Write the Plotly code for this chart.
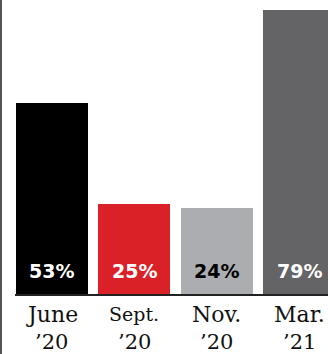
import plotly.graph_objects as go

# Survey share by wave
periods = ["June", "Sept.", "Nov.", "Mar."]
years = ["’20", "’20", "’20", "’21"]
shares = [53, 25, 24, 79]
bar_colors = ["#000000", "#db2128", "#acadb0", "#646466"]
label_colors = ["#ffffff", "#ffffff", "#000000", "#ffffff"]
month_sizes = [22, 19, 22, 22]

x = list(range(len(periods)))

fig = go.Figure(
    go.Bar(
        x=x,
        y=shares,
        width=0.875,
        marker=dict(color=bar_colors, line=dict(width=0)),
        hoverinfo="skip",
    )
)

# Percentage labels sitting at the foot of each bar
for xi, v, c in zip(x, shares, label_colors):
    fig.add_annotation(
        x=xi, y=0, xref="x", yref="y",
        text=f"<b>{v}%</b>", showarrow=False,
        yanchor="middle", yshift=23,
        font=dict(family="DejaVu Sans", size=19, color=c),
    )

# Two-line category labels under the axis
for xi, m, yr, fs in zip(x, periods, years, month_sizes):
    fig.add_annotation(
        x=xi, y=0, xref="x", yref="paper",
        text=m, showarrow=False, yanchor="middle", yshift=-20,
        font=dict(family="DejaVu Serif", size=fs, color="#111111"),
    )
    fig.add_annotation(
        x=xi, y=0, xref="x", yref="paper",
        text=yr, showarrow=False, yanchor="middle", yshift=-48,
        font=dict(family="DejaVu Serif", size=21, color="#111111"),
    )

# Vertical rule along the left edge
fig.add_shape(
    type="line", xref="paper", yref="paper",
    x0=-14 / 313, x1=-14 / 313, y0=-60 / 294, y1=1,
    line=dict(color="#555555", width=2),
)

fig.update_layout(
    width=328, height=354,
    margin=dict(l=15, r=0, t=0, b=60),
    paper_bgcolor="white", plot_bgcolor="white",
    showlegend=False,
    bargap=0,
    xaxis=dict(
        range=[-0.449, 3.352], showticklabels=False, ticks="",
        showgrid=False, zeroline=False,
        showline=True, linecolor="#222222", linewidth=2,
        fixedrange=True,
    ),
    yaxis=dict(
        range=[0, 294 / 3.6], visible=False, showgrid=False,
        zeroline=False, fixedrange=True,
    ),
)

fig.write_html("out.html")
